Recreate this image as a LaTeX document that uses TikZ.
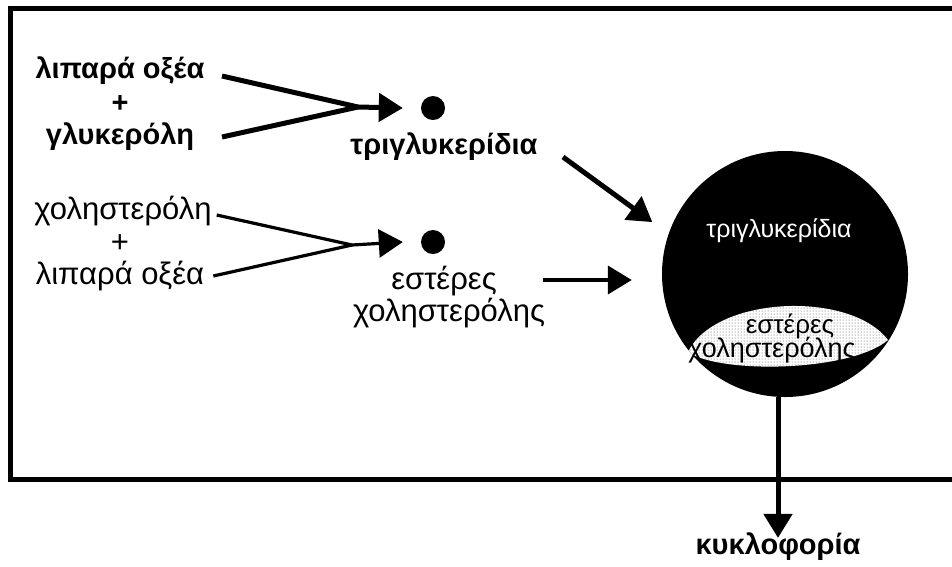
\documentclass[tikz,border=0pt]{standalone}
\usepackage{fontspec}
\setmainfont{Liberation Sans}
\usetikzlibrary{arrows.meta,calc,patterns}
\begin{document}
\begin{tikzpicture}[x=1pt,y=-1pt,
  lbl/.style={inner sep=1pt,font=\fontsize{31}{35}\selectfont},
  lblb/.style={inner sep=1pt,font=\fontsize{29}{33}\selectfont\bfseries},
  dotnode/.style={circle,fill=black,inner sep=0pt,minimum size=24pt},
  thickln/.style={line width=5pt},
  thinln/.style={line width=3.2pt},
  headarrow/.style={-{Triangle[length=24pt,width=28pt]}},
  frame/.style={line width=5pt}]
\useasboundingbox (0,0) rectangle (952,566);

% frame, open on the right
\draw[frame] (952,8) -- (10,8) -- (10,479) -- (952,479);

% fatty acids + glycerol -> triglycerides
\node[lblb] (fa1) at (120,71) {λιπαρά οξέα};
\node[lblb] (plus1) at (120,104) {+};
\node[lblb] (gly) at (120,137) {γλυκερόλη};
\coordinate (j1) at (358,107);
\node[dotnode] (d1) at (433,108) {};
\node[lblb] (tg) at (444,147) {τριγλυκερίδια};
\draw[thickln] (222,76) -- (j1);
\draw[thickln] (222,137) -- (j1);
\draw[thickln,headarrow] (j1) -- ([xshift=-18pt]d1.west);

% cholesterol + fatty acids -> cholesterol esters
\node[lbl] (chol) at (123,211) {χοληστερόλη};
\node[lbl] (plus2) at (120,244) {+};
\node[lbl] (fa2) at (120,276) {λιπαρά οξέα};
\coordinate (j2) at (352,245);
\node[dotnode] (d2) at (433,242) {};
\node[lbl] (es1) at (444,281) {εστέρες};
\node[lbl] (es2) at (449,313) {χοληστερόλης};
\draw[thinln] ($(chol.east)+(4,4)$) -- (j2);
\draw[thinln] ($(fa2.east)+(8,0)$) -- (j2);
\draw[thinln,headarrow] (j2) -- ([xshift=-18pt]d2.west);

% lipoprotein particle
\node[circle,fill=black,inner sep=0pt,minimum size=246pt] (lp) at (785,274) {};
\begin{scope}
  \clip (lp.center) circle (123);
  \fill[white] (688,352) .. controls (715,296) and (850,290) .. (888,340)
     .. controls (850,372) and (720,374) .. cycle;
  \fill[pattern=dots,pattern color=black!70] (688,352) .. controls (715,296) and (850,290) .. (888,340)
     .. controls (850,372) and (720,374) .. cycle;
\end{scope}
\node[inner sep=0pt,text=white,font=\fontsize{25}{28}\selectfont] (tgin) at (779,231) {τριγλυκερίδια};
\node[inner sep=0pt,font=\fontsize{26}{29}\selectfont] (esin1) at (790,326) {εστέρες};
\node[inner sep=0pt,font=\fontsize{27}{30}\selectfont] (esin2) at (772,350) {χοληστερόλης};

% arrows into and out of the particle
\coordinate (h0) at (543,280);
\draw[line width=4pt,headarrow,shorten >=30pt] (h0) -- (h0 -| lp.west);
\draw[thickln,headarrow,shorten >=20pt] (563,157) -- (lp.161);
\node[lblb] (kyk) at (778,547) {κυκλοφορία};
\draw[thickln,headarrow] ([xshift=-7pt]lp.south) -- ([yshift=-6pt]kyk.north);
\end{tikzpicture}
\end{document}
